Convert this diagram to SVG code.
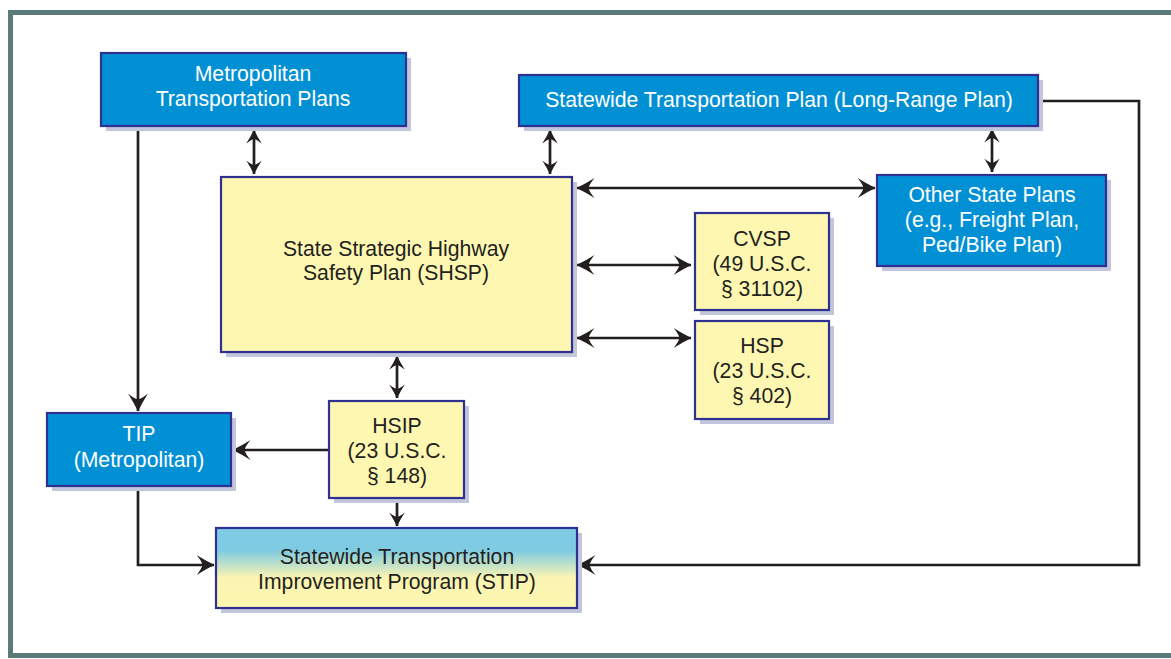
<svg xmlns="http://www.w3.org/2000/svg" width="1171" height="659" viewBox="0 0 1171 659">
<style>
  .frame { fill: none; stroke: #5b7b7b; stroke-width: 5; }
  .shadow { fill: #c3c5db; }
  .blue { fill: #0290d5; stroke: #2e3192; stroke-width: 2.2; }
  .yellow { fill: #fef7b1; stroke: #2e3192; stroke-width: 2.2; }
  .grad { fill: url(#stipGrad); stroke: #2e3192; stroke-width: 2.2; }
  text { font-family: "Liberation Sans", Arial, sans-serif; font-size: 21.2px; text-anchor: middle; }
  .wt { fill: #ffffff; }
  .dk { fill: #231f20; }
  .conn { fill: none; stroke: #231f20; stroke-width: 2.7; }
</style>
<defs>
  <linearGradient id="stipGrad" x1="0" y1="0" x2="0" y2="1">
    <stop offset="0" stop-color="#7ecbe3"/>
    <stop offset="0.28" stop-color="#7ecbe3"/>
    <stop offset="0.62" stop-color="#fbf4b2"/>
    <stop offset="1" stop-color="#fef7b1"/>
  </linearGradient>
  <marker id="ahL" viewBox="0 0 18 20" refX="17.5" refY="10" markerWidth="18" markerHeight="20" markerUnits="userSpaceOnUse" orient="auto-start-reverse">
    <path d="M18,10 Q9,5.8 0,0 Q5,6 6,10 Q5,14 0,20 Q9,14.2 18,10 Z" fill="#231f20"/>
  </marker>
  <marker id="ahS" viewBox="0 0 18 20" refX="17.5" refY="10" markerWidth="14" markerHeight="15.5" markerUnits="userSpaceOnUse" orient="auto-start-reverse">
    <path d="M18,10 Q9,5.8 0,0 Q5,6 6,10 Q5,14 0,20 Q9,14.2 18,10 Z" fill="#231f20"/>
  </marker>
</defs>

<rect class="frame" x="10.5" y="12.5" width="1200" height="643"/>

<g id="connectors">
  <line class="conn" x1="254" y1="130" x2="254" y2="174" marker-start="url(#ahS)" marker-end="url(#ahS)"/>
  <line class="conn" x1="550" y1="130" x2="550" y2="174" marker-start="url(#ahS)" marker-end="url(#ahS)"/>
  <line class="conn" x1="992" y1="129" x2="992" y2="172" marker-start="url(#ahS)" marker-end="url(#ahS)"/>
  <line class="conn" x1="577" y1="188" x2="875" y2="188" marker-start="url(#ahL)" marker-end="url(#ahL)"/>
  <line class="conn" x1="577" y1="265" x2="691" y2="265" marker-start="url(#ahL)" marker-end="url(#ahL)"/>
  <line class="conn" x1="577" y1="338" x2="691" y2="338" marker-start="url(#ahL)" marker-end="url(#ahL)"/>
  <line class="conn" x1="397" y1="356" x2="397" y2="398" marker-start="url(#ahS)" marker-end="url(#ahS)"/>
  <line class="conn" x1="138" y1="127" x2="138" y2="411" marker-end="url(#ahL)"/>
  <line class="conn" x1="329" y1="450" x2="233" y2="450" marker-end="url(#ahL)"/>
  <line class="conn" x1="397" y1="499" x2="397" y2="526" marker-end="url(#ahS)"/>
  <path class="conn" d="M138,487 V565 H214" marker-end="url(#ahL)"/>
  <path class="conn" d="M1038,101 H1139 V565 H578" marker-end="url(#ahL)"/>
</g>

<g id="metro">
  <rect class="shadow" x="106" y="58" width="305" height="73"/>
  <rect class="blue" x="101" y="53" width="305" height="73"/>
  <text class="wt" x="253" y="81">Metropolitan</text>
  <text class="wt" x="253" y="106">Transportation Plans</text>
</g>

<g id="lrp">
  <rect class="shadow" x="524" y="80" width="519" height="51"/>
  <rect class="blue" x="519" y="75" width="519" height="51"/>
  <text class="wt" x="779" y="106.5">Statewide Transportation Plan (Long-Range Plan)</text>
</g>

<g id="other">
  <rect class="shadow" x="882" y="180" width="229" height="91"/>
  <rect class="blue" x="877" y="175" width="229" height="91"/>
  <text class="wt" x="992" y="201.5">Other State Plans</text>
  <text class="wt" x="992" y="226.5">(e.g., Freight Plan,</text>
  <text class="wt" x="992" y="251.5">Ped/Bike Plan)</text>
</g>

<g id="shsp">
  <rect class="shadow" x="226" y="182" width="351" height="175"/>
  <rect class="yellow" x="221" y="177" width="351" height="175"/>
  <text class="dk" x="396" y="255.5">State Strategic Highway</text>
  <text class="dk" x="396" y="280">Safety Plan (SHSP)</text>
</g>

<g id="cvsp">
  <rect class="shadow" x="700" y="218" width="134" height="97"/>
  <rect class="yellow" x="695" y="213" width="134" height="97"/>
  <text class="dk" x="762" y="246">CVSP</text>
  <text class="dk" x="762" y="271">(49 U.S.C.</text>
  <text class="dk" x="762" y="296">§ 31102)</text>
</g>

<g id="hsp">
  <rect class="shadow" x="700" y="326" width="134" height="98"/>
  <rect class="yellow" x="695" y="321" width="134" height="98"/>
  <text class="dk" x="762" y="353">HSP</text>
  <text class="dk" x="762" y="378">(23 U.S.C.</text>
  <text class="dk" x="762" y="403">§ 402)</text>
</g>

<g id="hsip">
  <rect class="shadow" x="334" y="406" width="135" height="97"/>
  <rect class="yellow" x="329" y="401" width="135" height="97"/>
  <text class="dk" x="397" y="433">HSIP</text>
  <text class="dk" x="397" y="458">(23 U.S.C.</text>
  <text class="dk" x="397" y="483">§ 148)</text>
</g>

<g id="tip">
  <rect class="shadow" x="52" y="418" width="184" height="73"/>
  <rect class="blue" x="47" y="413" width="184" height="73"/>
  <text class="wt" x="139" y="441">TIP</text>
  <text class="wt" x="139" y="466.5">(Metropolitan)</text>
</g>

<g id="stip">
  <rect class="shadow" x="221" y="533" width="361" height="80"/>
  <rect class="grad" x="216" y="528" width="361" height="80"/>
  <text class="dk" x="397" y="564">Statewide Transportation</text>
  <text class="dk" x="397" y="589">Improvement Program (STIP)</text>
</g>
</svg>
